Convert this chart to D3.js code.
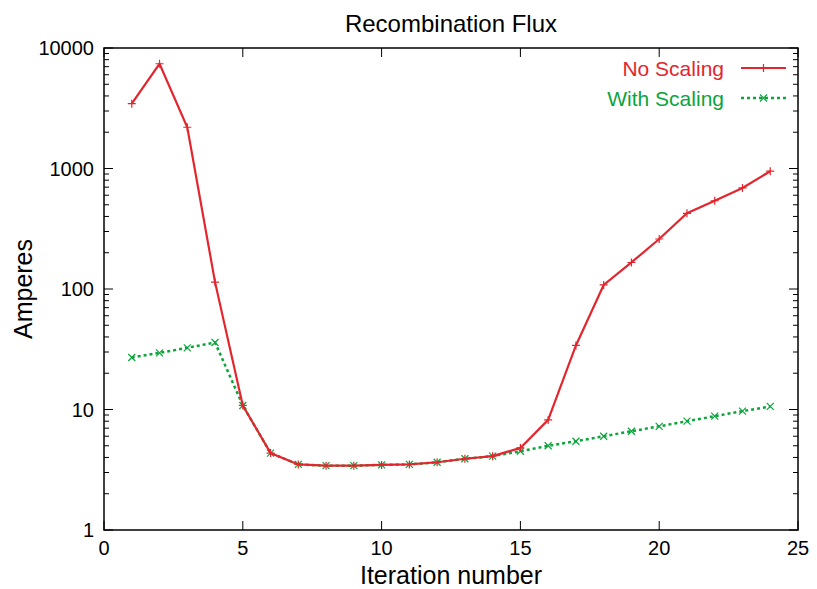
<!DOCTYPE html>
<html>
<head>
<meta charset="utf-8">
<script src="https://cdn.jsdelivr.net/npm/d3@7"></script>
<style>
  body { margin: 0; background: #fff; }
  text { font-family: "Liberation Sans", Arial, sans-serif; }
</style>
</head>
<body>
<div id="chart-area"></div>
<script>
const iterations = d3.range(1, 25);
const noScaling = [3450, 7400, 2200, 114, 10.8, 4.35, 3.5, 3.42, 3.42, 3.47, 3.5, 3.65, 3.9, 4.1, 4.8,
  8.2, 34, 108, 166, 260, 425, 540, 690, 950];
const withScaling = [27, 29.5, 32.5, 36, 10.8, 4.35, 3.5, 3.42, 3.42, 3.47, 3.5, 3.65, 3.9, 4.1, 4.5,
  5.0, 5.45, 6.0, 6.6, 7.25, 8.0, 8.8, 9.7, 10.6];
const xTicks = [0, 5, 10, 15, 20, 25];
const yTicks = [1, 10, 100, 1000, 10000];
const seriesNames = ['No Scaling', 'With Scaling'];

const W = 817, H = 589;
const MARGIN = { LEFT: 104, RIGHT: 19, TOP: 48, BOTTOM: 59 };
const RED = '#e3262e', GREEN = '#0ba53c';

const svg = d3.select('#chart-area').append('svg')
  .attr('width', W)
  .attr('height', H);

const x = d3.scaleLinear().domain([0, 25]).range([MARGIN.LEFT, W - MARGIN.RIGHT]);
const y = d3.scaleLog().domain([1, 10000]).range([H - MARGIN.BOTTOM, MARGIN.TOP]);

const x0 = x.range()[0], x1 = x.range()[1];
const yb = y.range()[0], yt = y.range()[1];

// ticks (inside, mirrored)
const minor = [];
yTicks.slice(0, -1).forEach(d => { for (let k = 2; k < 10; k++) minor.push(d * k); });
const tk = svg.append('g').attr('stroke', '#000').attr('stroke-width', 1);
yTicks.forEach(d => {
  tk.append('line').attr('x1', x0).attr('x2', x0 + 9).attr('y1', y(d)).attr('y2', y(d));
  tk.append('line').attr('x1', x1).attr('x2', x1 - 9).attr('y1', y(d)).attr('y2', y(d));
});
minor.forEach(d => {
  tk.append('line').attr('x1', x0).attr('x2', x0 + 5).attr('y1', y(d)).attr('y2', y(d));
  tk.append('line').attr('x1', x1).attr('x2', x1 - 5).attr('y1', y(d)).attr('y2', y(d));
});
xTicks.forEach(d => {
  tk.append('line').attr('x1', x(d)).attr('x2', x(d)).attr('y1', yb).attr('y2', yb - 9);
  tk.append('line').attr('x1', x(d)).attr('x2', x(d)).attr('y1', yt).attr('y2', yt + 9);
});

// tick labels
svg.append('g').selectAll('text').data(xTicks).join('text')
  .attr('x', d => x(d)).attr('y', yb + 25)
  .attr('text-anchor', 'middle').attr('font-size', 20)
  .text(d => d);
svg.append('g').selectAll('text').data(yTicks).join('text')
  .attr('x', x0 - 10).attr('y', d => y(d) + 7)
  .attr('text-anchor', 'end').attr('font-size', 20)
  .text(d => d);

// frame
svg.append('rect')
  .attr('x', x0).attr('y', yt).attr('width', x1 - x0).attr('height', yb - yt)
  .attr('fill', 'none').attr('stroke', '#000').attr('stroke-width', 1.5);

// titles
svg.append('text').attr('x', (x0 + x1) / 2).attr('y', 32)
  .attr('text-anchor', 'middle').attr('font-size', 24).text('Recombination Flux');
svg.append('text').attr('x', (x0 + x1) / 2).attr('y', 584)
  .attr('text-anchor', 'middle').attr('font-size', 25).text('Iteration number');
svg.append('text')
  .attr('transform', `translate(32, ${(yt + yb) / 2}) rotate(-90)`)
  .attr('text-anchor', 'middle').attr('font-size', 25).text('Amperes');

const line = d3.line().x((d, i) => x(iterations[i])).y(d => y(d));

function plus(g, px, py, color) {
  g.append('path').attr('d', `M${px - 4},${py}H${px + 4}M${px},${py - 4}V${py + 4}`)
    .attr('stroke', color).attr('stroke-width', 1.2).attr('fill', 'none');
}
function cross(g, px, py, color) {
  g.append('path').attr('d', `M${px - 3.5},${py - 3.5}L${px + 3.5},${py + 3.5}M${px - 3.5},${py + 3.5}L${px + 3.5},${py - 3.5}`)
    .attr('stroke', color).attr('stroke-width', 1.2).attr('fill', 'none');
}

const gG = svg.append('g');
gG.append('path').datum(withScaling).attr('d', line)
  .attr('fill', 'none').attr('stroke', GREEN).attr('stroke-width', 2.5).attr('stroke-dasharray', '3,3');
withScaling.forEach((d, i) => cross(gG, x(iterations[i]), y(d), GREEN));

const gR = svg.append('g');
gR.append('path').datum(noScaling).attr('d', line)
  .attr('fill', 'none').attr('stroke', RED).attr('stroke-width', 2.2);
noScaling.forEach((d, i) => plus(gR, x(iterations[i]), y(d), RED));

// legend
const leg = svg.append('g');
const colors = [RED, GREEN];
seriesNames.forEach((name, i) => {
  const ly = 68 + i * 30;
  leg.append('text').attr('x', 724).attr('y', ly + 8)
    .attr('text-anchor', 'end').attr('font-size', 21).attr('fill', colors[i]).text(name);
  const l = leg.append('line').attr('x1', 741).attr('x2', 786).attr('y1', ly).attr('y2', ly)
    .attr('stroke', colors[i]).attr('stroke-width', i ? 2.5 : 2.2);
  if (i) { l.attr('stroke-dasharray', '3,3'); cross(leg, 763.5, ly, colors[i]); }
  else plus(leg, 763.5, ly, colors[i]);
});
</script>
</body>
</html>
